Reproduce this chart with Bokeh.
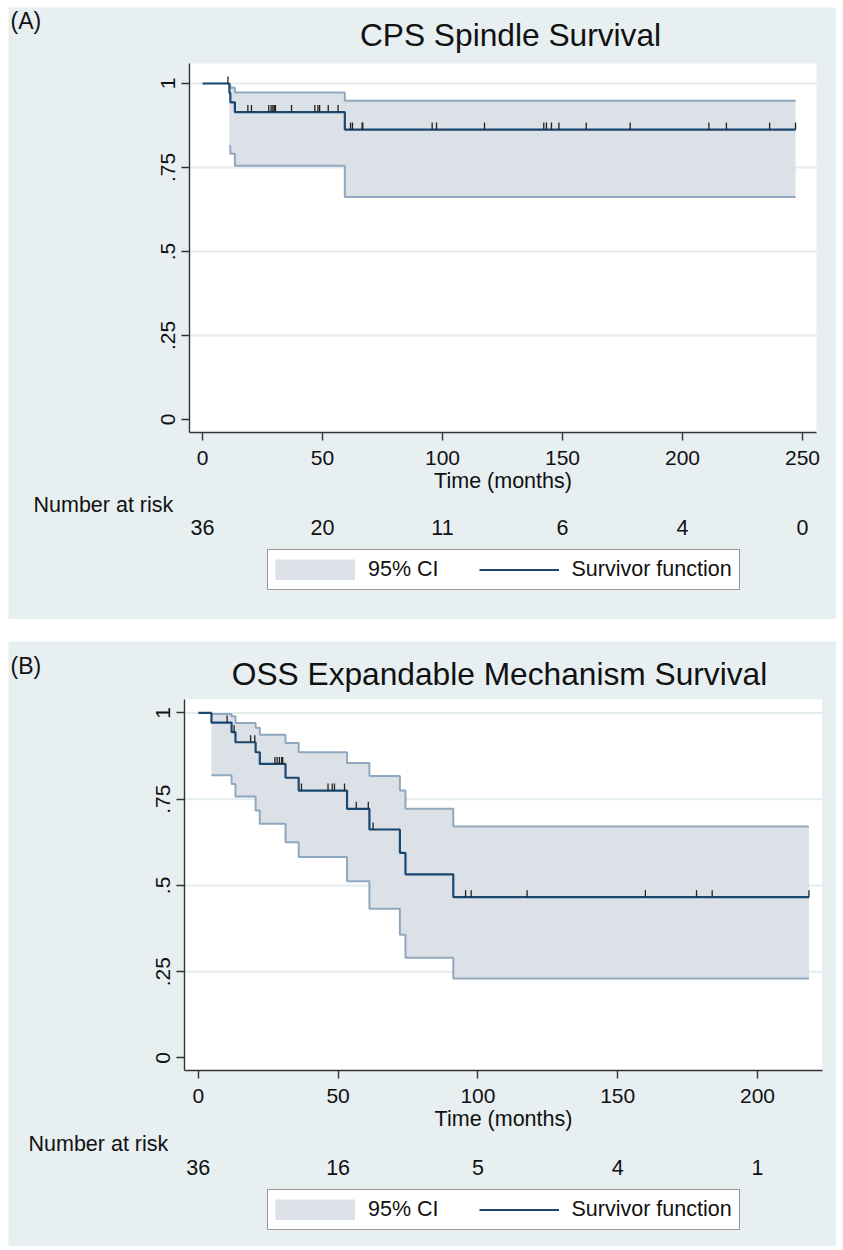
import numpy as np
from bokeh.plotting import figure
from bokeh.layouts import column
from bokeh.models import Range1d, FixedTicker, Label, Legend, LegendItem, BoxAnnotation
from bokeh.embed import file_html
from bokeh.resources import INLINE

# ---------------- data: panel A (CPS Spindle) ----------------
a_event_t = [11.2, 11.6, 13.5, 59.3]
a_surv = [0.972, 0.944, 0.915, 0.863]
a_lo = [0.815, 0.791, 0.755, 0.662]
a_hi = [0.996, 0.987, 0.973, 0.949]
a_cens_t = [10.6, 18.9, 20.4, 27.6, 28.6, 29.3, 29.9, 30.0, 30.4, 37.1, 46.8, 48.1,
            48.8, 52.4, 56.5, 61.7, 62.5, 66.5, 66.8, 95.7, 97.5, 117.5, 142.2, 143.3,
            145.4, 148.5, 159.9, 178.2, 211.0, 218.3, 236.3, 247.1]
a_end = 247.1
a_xticks = [0, 50, 100, 150, 200, 250]
a_risk_n = [36, 20, 11, 6, 4, 0]

# ---------------- data: panel B (OSS Expandable) ----------------
b_event_t = [4.7, 11.9, 13.3, 20.5, 22.0, 31.2, 35.9, 53.2, 61.2, 72.1, 74.1, 91.2]
b_surv = [0.972, 0.944, 0.915, 0.886, 0.852, 0.812, 0.775, 0.722, 0.662, 0.594, 0.532, 0.466]
b_hi = [0.997, 0.990, 0.971, 0.957, 0.937, 0.913, 0.886, 0.855, 0.817, 0.775, 0.722, 0.671]
b_lo = [0.819, 0.794, 0.758, 0.717, 0.679, 0.625, 0.582, 0.512, 0.432, 0.357, 0.290, 0.230]
b_cens_t = [10.3, 12.8, 18.7, 20.2, 27.4, 28.2, 29.0, 29.8, 30.2, 36.9, 46.4, 47.9,
            48.7, 52.3, 56.5, 60.8, 62.5, 95.6, 97.6, 117.6, 159.9, 178.2, 183.8, 218.4]
b_end = 218.4
b_xticks = [0, 50, 100, 150, 200]
b_risk_n = [36, 16, 5, 4, 1]

y_ticks = [0, 0.25, 0.5, 0.75, 1]
y_tick_labels = ["0", ".25", ".5", ".75", "1"]
grid_ticks = [0.25, 0.5, 0.75, 1]

BG = "#e7eff1"
GRID = "#e3ecef"
CI_FILL = "#dce1e7"
CI_LINE = "#8fa8bf"
NAVY = "#1a476f"
FONT = "Liberation Sans"
TXT = "#111111"
W = 828
PAGE_LEFT = 8
BASE_FIX = 0.36   # label anchor correction (fraction of font size)


def make_panel(tag, title, ev_t, surv, lo, hi, cens, t_end, xticks, risk_n,
               top, H, x0_px, px_per_t, y1_px, px_per_s, plot_box,
               tag_xy, title_xy, nar_xy, risk_base, leg_xy):
    def tx(X):
        return (X - x0_px) / px_per_t

    def sy(Y):
        return 1 - (Y - y1_px) / px_per_s

    def label(X, Ybase, text, size, align="left", xdata=None):
        return Label(x=tx(X) if xdata is None else xdata, y=sy(Ybase - BASE_FIX * size),
                     text=text, text_font=FONT, text_font_size=f"{size}px", text_color=TXT,
                     text_align=align, text_baseline="alphabetic")

    xr = (tx(PAGE_LEFT), tx(PAGE_LEFT + W))
    yr = (sy(top + H), sy(top))
    pl, pr, pt, pb = plot_box
    bx = (tx(pl), tx(pr))
    by = (sy(pb), sy(pt))

    p = figure(width=W, height=H, x_range=Range1d(*xr), y_range=Range1d(*yr),
               output_backend="svg", toolbar_location=None, min_border=0)
    p.border_fill_color = BG
    p.background_fill_color = BG
    p.outline_line_color = None
    p.grid.visible = False

    p.add_layout(BoxAnnotation(left=bx[0], right=bx[1], bottom=by[0], top=by[1],
                               fill_color="white", fill_alpha=1.0, line_alpha=0,
                               level="underlay"))

    for ax in (p.xaxis, p.yaxis):
        ax.axis_line_color = "#333333"
        ax.axis_line_width = 1.4
        ax.major_tick_line_color = "#333333"
        ax.major_tick_line_width = 1.4
        ax.major_tick_out = 8
        ax.major_tick_in = 0
        ax.minor_tick_line_color = None
        ax.major_label_text_font = FONT
        ax.major_label_text_font_size = "21px"
        ax.major_label_text_color = TXT
    p.xaxis.fixed_location = by[0]
    p.xaxis.bounds = bx
    p.xaxis.ticker = FixedTicker(ticks=xticks)
    p.xaxis.major_label_standoff = 10
    p.xaxis.axis_label = "Time (months)"
    p.xaxis.axis_label_text_font = FONT
    p.xaxis.axis_label_text_font_size = "21.5px"
    p.xaxis.axis_label_text_font_style = "normal"
    p.xaxis.axis_label_text_color = TXT
    p.xaxis.axis_label_standoff = 1
    p.yaxis.fixed_location = bx[0]
    p.yaxis.bounds = by
    p.yaxis.ticker = FixedTicker(ticks=y_ticks)
    p.yaxis.major_label_overrides = {t: s for t, s in zip(y_ticks, y_tick_labels)}
    p.yaxis.major_label_orientation = "vertical"
    p.yaxis.major_label_standoff = 7

    p.segment(x0=[bx[0]] * len(grid_ticks), x1=[bx[1]] * len(grid_ticks),
              y0=grid_ticks, y1=grid_ticks, line_color=GRID, line_width=2)

    sx = [0] + list(ev_t) + [t_end]
    sy_ = [1] + list(surv) + [surv[-1]]
    cx = list(ev_t) + [t_end]
    clo = list(lo) + [lo[-1]]
    chi = list(hi) + [hi[-1]]

    p.varea_step(x=cx, y1=clo, y2=chi, step_mode="after", fill_color=CI_FILL)
    p.step(cx, clo, mode="after", line_color=CI_LINE, line_width=2)
    p.step(cx, chi, mode="after", line_color=CI_LINE, line_width=2)
    sline = p.step(sx, sy_, mode="after", line_color=NAVY, line_width=2.2)

    ev = np.array(ev_t)
    sv = np.array(surv)
    c = np.array(cens)
    idx = np.searchsorted(ev, c, side="right") - 1
    s_at = np.where(idx >= 0, sv[np.clip(idx, 0, None)], 1.0)
    tick_len = 7 / px_per_s
    p.segment(x0=c, y0=s_at, x1=c, y1=s_at + tick_len, line_color="#222222", line_width=1.3)

    # texts
    p.add_layout(label(tag_xy[0], tag_xy[1], tag, 23))
    p.add_layout(label(title_xy[0], title_xy[1], title, 31.7, align="center"))
    p.add_layout(label(nar_xy[0], nar_xy[1], "Number at risk", 21.5))
    for t, n in zip(xticks, risk_n):
        p.add_layout(label(0, risk_base, str(n), 21.5, align="center", xdata=t))

    # legend key for the CI: a solid swatch of the band colour (no visible data)
    ci_key = p.line(x=[np.nan], y=[np.nan], line_color=CI_FILL, line_width=21, line_cap="butt")
    legend = Legend(items=[LegendItem(label="95% CI", renderers=[ci_key]),
                           LegendItem(label="Survivor function", renderers=[sline])],
                    location=(leg_xy[0] - PAGE_LEFT, top + H - leg_xy[1]),
                    orientation="horizontal", glyph_width=80, glyph_height=21,
                    label_standoff=13, spacing=40, padding=7, margin=0,
                    border_line_color="#333333", border_line_width=1.5,
                    background_fill_color="white", background_fill_alpha=1.0,
                    label_text_font=FONT, label_text_font_size="21.5px", label_text_color=TXT)
    p.add_layout(legend)
    return p


pA = make_panel("(A)", "CPS Spindle Survival", a_event_t, a_surv, a_lo, a_hi, a_cens_t, a_end,
                a_xticks, a_risk_n,
                top=7, H=612, x0_px=202.0, px_per_t=2.4, y1_px=83.0, px_per_s=336.0,
                plot_box=(189, 816, 63, 432),
                tag_xy=(10, 29), title_xy=(510, 46),
                nar_xy=(33, 512), risk_base=535, leg_xy=(267, 590))

pB = make_panel("(B)", "OSS Expandable Mechanism Survival", b_event_t, b_surv, b_lo, b_hi,
                b_cens_t, b_end, b_xticks, b_risk_n,
                top=641, H=605, x0_px=197.8, px_per_t=2.796, y1_px=712.4, px_per_s=345.0,
                plot_box=(184.4, 821.5, 698.8, 1070.3),
                tag_xy=(10, 674), title_xy=(499, 685),
                nar_xy=(28, 1151), risk_base=1175, leg_xy=(267, 1229.5))

layout = column(pA, pB, spacing=22, margin=(7, 0, 0, 8))
open("out.html", "w").write(file_html(layout, INLINE))
